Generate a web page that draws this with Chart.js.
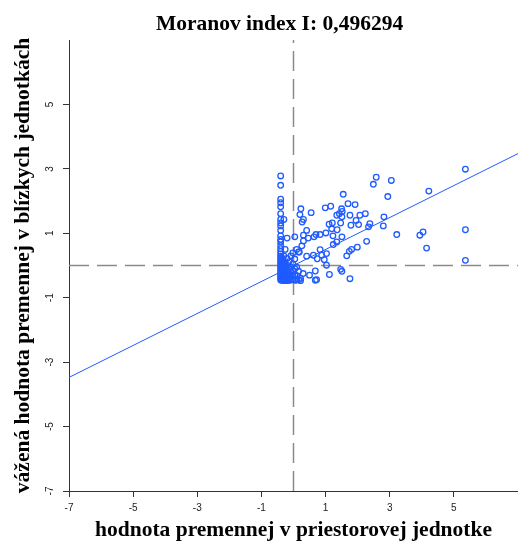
<!DOCTYPE html>
<html>
<head>
<meta charset="utf-8">
<script src="https://cdn.jsdelivr.net/npm/chart.js@4.4.1/dist/chart.umd.min.js"></script>
<style>
  html, body { margin: 0; padding: 0; background: #fff; }
  #moranChart { display: block; }
</style>
</head>
<body>
<canvas id="moranChart" width="518" height="541"></canvas>
<script>
// Moranov index (sklon regresnej priamky)
const moranI = 0.496294;
const chartTitle = 'Moranov index I: 0,496294';
const xTitle = 'hodnota premennej v priestorovej jednotke';
const yTitle = 'vážená hodnota premennej v blízkych jednotkách';

const axisMin = -7;
const axisMax = 7;
const xTickValues = [-7, -5, -3, -1, 1, 3, 5];
const yTickValues = [-7, -5, -3, -1, 1, 3, 5];

// hodnota premennej (x) a vazena hodnota susedov (y)
const unitValues = [
    -0.40, -0.40, -0.40, -0.40, -0.40, -0.40, -0.40, -0.40, -0.40, -0.40,
    -0.40, -0.40, -0.40, -0.40, -0.40, -0.40, -0.40, -0.40, -0.40, -0.40,
    -0.40, -0.40, -0.40, -0.40, -0.40, -0.40, -0.40, -0.40, -0.40, -0.40,
    -0.37, -0.37, -0.37, -0.37, -0.37, -0.37, -0.37,
    -0.33, -0.33, -0.33, -0.33, -0.33, -0.33,
    -0.30, -0.30, -0.30, -0.30, -0.30, -0.30, -0.30,
    -0.26, -0.26, -0.26, -0.26, -0.26, -0.26,
    -0.20, -0.20, -0.20, -0.20, -0.20, -0.20, -0.20,
    -0.14, -0.14, -0.14, -0.14, -0.14,
    -0.08, -0.08, -0.08, -0.08, -0.08,
    -0.02, -0.02, -0.02, -0.02, -0.02,
    0.04, 0.04, 0.04, 0.04, 0.04,
    0.10, 0.10, 0.10, 0.10,
    0.16, 0.16, 0.16,
    0.22, 0.22,
    0.23, 0.20, 0.31, 0.27, 0.55, 0.99, 1.16, 1.55, 1.70, 1.92,
    1.50, 1.52, 1.43, 1.35, 1.51, 1.47, 1.76, 2.07, 2.24, 1.95,
    2.03, 2.38, 2.34, 2.58, 2.49, 3.05, 2.94, 2.82, 2.80, 4.22,
    5.36, 3.22, 3.94, 4.04, 4.15, 5.36, 5.36,
    0.41, 0.70, 1.01, 1.19, 1.36, 1.23, 1.51, 1.79, 1.11, 1.21,
    0.31, 0.46, 0.64, 0.83, 0.31, 0.26, 0.18, 0.41, 0.62, 0.88,
    1.03, 1.24, 1.35,
    0.83, 0.74, 0.96, 1.81, 1.74, 1.99, 1.66, 2.28,
    0.68, 1.03, 1.47, 1.51, 1.12, 0.72, 0.68, 1.76, 0.50, 0.30
];
const lagValues = [
    2.78, 2.49, 2.06, 1.95, 1.82, 1.61, 1.43, 1.32, 1.23, 1.09,
    0.92, 0.81, 0.73, 0.62, 0.52, 0.44, 0.36, 0.29, 0.22, 0.15,
    0.09, 0.03, -0.03, -0.09, -0.15, -0.21, -0.27, -0.33, -0.39, -0.45,
    0.25, 0.12, 0.00, -0.12, -0.24, -0.36, -0.46,
    0.18, 0.05, -0.08, -0.20, -0.32, -0.44,
    1.43, 0.30, -0.02, -0.15, -0.28, -0.40, -0.47,
    0.50, 0.10, -0.10, -0.22, -0.35, -0.46,
    0.85, 0.22, 0.00, -0.18, -0.30, -0.42, -0.47,
    0.12, -0.08, -0.25, -0.38, -0.46,
    0.30, -0.05, -0.20, -0.35, -0.45,
    0.39, 0.05, -0.15, -0.30, -0.44,
    0.89, 0.20, -0.10, -0.28, -0.46,
    0.50, -0.05, -0.32, -0.45,
    0.42, -0.18, -0.44,
    -0.40, -0.47,
    1.76, 1.58, 1.43, 1.35, 1.64, 1.79, 1.84, 2.21, 1.92, 1.89,
    1.76, 1.68, 1.61, 1.56, 1.51, 1.32, 1.56, 1.56, 1.61, 1.40,
    1.27, 1.30, 1.20, 2.74, 2.52, 2.64, 2.14, 1.51, 1.23, 2.31,
    2.99, 0.96, 0.94, 1.04, 0.54, 1.11, 0.16,
    1.09, 0.96, 1.01, 1.14, 1.11, 0.92, 0.89, 1.25, 1.28, 1.32,
    0.94, 0.85, 0.89, 0.96, 0.76, 0.61, 0.42, 0.29, 0.32, 0.32,
    0.37, 0.65, 0.73,
    0.49, 0.21, 0.18, 0.50, 0.44, 0.57, 0.30, 0.75,
    -0.17, 0.01, -0.12, -0.18, -0.28, -0.44, -0.46, -0.41, -0.30, -0.25
];

const pointColor = '#1f5bff';
const dashColor = '#8a8a8a';
const axisColor = '#333333';
const serifFont = "'Liberation Serif', 'Times New Roman', serif";
const sansFont = "'Liberation Sans', Arial, sans-serif";

const points = unitValues.map((x, i) => ({ x: x, y: lagValues[i] }));

// titulok nad grafom
const moranTitlePlugin = {
    id: 'moranTitle',
    afterDraw(chart) {
        const ctx = chart.ctx;
        const area = chart.chartArea;
        ctx.save();
        ctx.font = 'bold 21.5px ' + serifFont;
        ctx.fillStyle = '#000';
        ctx.textAlign = 'center';
        ctx.textBaseline = 'middle';
        ctx.fillText(chartTitle, (area.left + area.right) / 2 - 14, 24);
        ctx.restore();
    }
};

const ctx = document.getElementById('moranChart').getContext('2d');
const moranChart = new Chart(ctx, {
    type: 'scatter',
    data: {
        datasets: [
            {
                label: 'body',
                data: points,
                pointStyle: 'circle',
                pointRadius: 2.8,
                pointBorderWidth: 1.3,
                pointBorderColor: pointColor,
                pointBackgroundColor: 'rgba(0,0,0,0)',
                order: 2
            },
            {
                label: 'regresia',
                data: [
                    { x: axisMin, y: axisMin * moranI },
                    { x: axisMax, y: axisMax * moranI }
                ],
                showLine: true,
                borderColor: pointColor,
                borderWidth: 1,
                pointRadius: 0,
                order: 1
            },
            {
                label: 'priemer x',
                data: [{ x: 0, y: axisMin }, { x: 0, y: axisMax }],
                showLine: true,
                borderColor: dashColor,
                borderWidth: 1.5,
                borderDash: [20, 8],
                pointRadius: 0,
                order: 3
            },
            {
                label: 'priemer y',
                data: [{ x: axisMin, y: 0 }, { x: axisMax, y: 0 }],
                showLine: true,
                borderColor: dashColor,
                borderWidth: 1.5,
                borderDash: [20, 8],
                pointRadius: 0,
                order: 3
            }
        ]
    },
    options: {
        responsive: false,
        animation: false,
        layout: {
            autoPadding: false,
            padding: { top: 40, right: 0, bottom: 0, left: 0 }
        },
        scales: {
            x: {
                type: 'linear',
                min: axisMin,
                max: axisMax,
                afterBuildTicks: (scale) => {
                    scale.ticks = xTickValues.map(v => ({ value: v }));
                },
                afterFit: (scale) => {
                    scale.height = 50;
                    scale.paddingLeft = 0;
                    scale.paddingRight = 0;
                },
                grid: {
                    drawOnChartArea: false,
                    drawTicks: true,
                    tickLength: 6,
                    tickColor: axisColor
                },
                border: { display: true, color: axisColor, width: 1 },
                ticks: {
                    color: '#222',
                    padding: 5,
                    maxRotation: 0,
                    autoSkip: false,
                    font: { family: sansFont, size: 10 },
                    callback: (v) => String(v)
                },
                title: {
                    display: true,
                    text: xTitle,
                    color: '#000',
                    font: { family: serifFont, size: 21.5, weight: 'bold', lineHeight: 1.2 },
                    padding: { top: 0, bottom: -2 }
                }
            },
            y: {
                type: 'linear',
                min: axisMin,
                max: axisMax,
                afterBuildTicks: (scale) => {
                    scale.ticks = yTickValues.map(v => ({ value: v }));
                },
                afterFit: (scale) => {
                    scale.width = 69;
                    scale.paddingTop = 0;
                    scale.paddingBottom = 0;
                },
                grid: {
                    drawOnChartArea: false,
                    drawTicks: true,
                    tickLength: 6,
                    tickColor: axisColor
                },
                border: { display: true, color: axisColor, width: 1 },
                ticks: {
                    color: '#222',
                    padding: 8,
                    minRotation: 90,
                    maxRotation: 90,
                    crossAlign: 'center',
                    autoSkip: false,
                    font: { family: sansFont, size: 10 },
                    callback: (v) => String(v)
                },
                title: {
                    display: true,
                    text: yTitle,
                    color: '#000',
                    font: { family: serifFont, size: 21.5, weight: 'bold', lineHeight: 1.2 },
                    padding: { top: 11, bottom: 0 }
                }
            }
        },
        plugins: {
            legend: { display: false },
            tooltip: { enabled: false }
        }
    },
    plugins: [moranTitlePlugin]
});
</script>
</body>
</html>
